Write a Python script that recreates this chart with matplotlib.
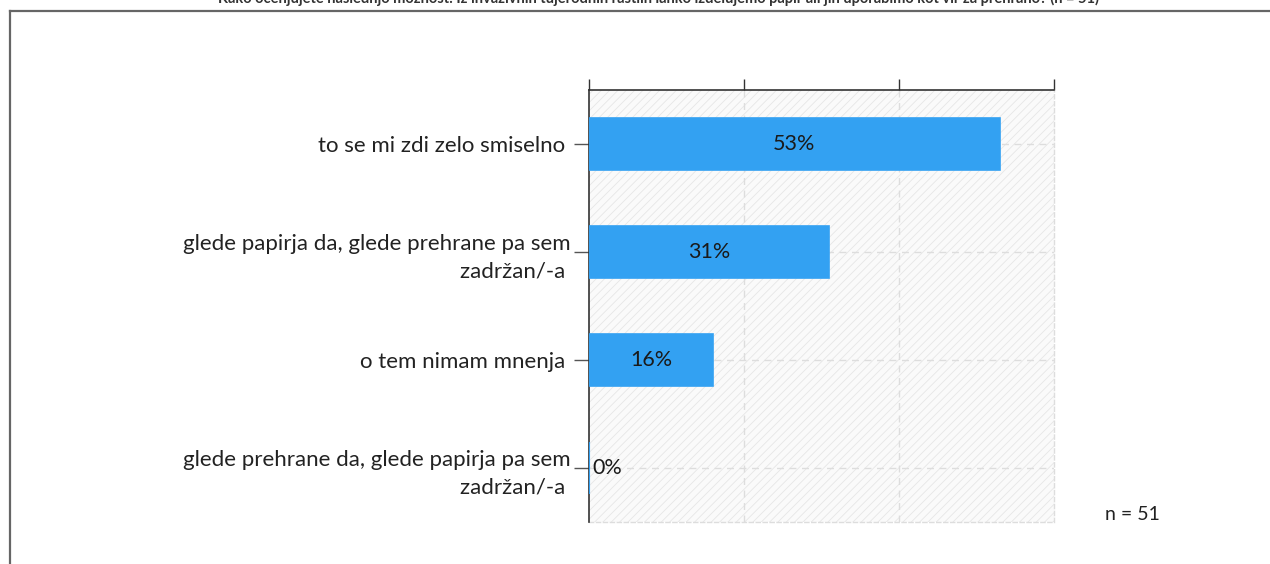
import matplotlib
matplotlib.use("Agg")
import matplotlib.pyplot as plt
from matplotlib.patches import Rectangle
from matplotlib.lines import Line2D

plt.rcParams['font.family'] = ['Lato', 'DejaVu Sans']
plt.rcParams['hatch.linewidth'] = 0.6

title = ("Kako ocenjujete naslednjo možnost: Iz invazivnih tujerodnih rastlin lahko "
         "izdelujemo papir ali jih uporabimo kot vir za prehrano? (n = 51)")
categories = [
    "to se mi zdi zelo smiselno ",
    "glede papirja da, glede prehrane pa sem\nzadržan/-a ",
    "o tem nimam mnenja ",
    "glede prehrane da, glede papirja pa sem\nzadržan/-a ",
]
values = [53, 31, 16, 0]
x_ticks = [0, 20, 40, 60]
n_label = "n = 51"

bar_color = '#33a1f2'
bar_h = 0.48

fig = plt.figure(figsize=(12.7, 5.64), dpi=100)

# outer frame (top + left)
fig.add_artist(Line2D([10 / 1270, 1.0], [1 - 11 / 564, 1 - 11 / 564],
                      transform=fig.transFigure, color='#666666', lw=1.6))
fig.add_artist(Line2D([10 / 1270, 10 / 1270], [0, 1 - 11 / 564],
                      transform=fig.transFigure, color='#666666', lw=1.6))

# title, mostly cut off at the top edge like in the source
fig.text(658 / 1270, 1 - 3 / 564, title, ha='center', va='baseline',
         fontsize=10.5, fontweight='bold', color='#333333')

ax = fig.add_axes([589 / 1270, 1 - 522 / 564, 465 / 1270, 432 / 564])

# hatched background
ax.add_patch(Rectangle((0, 0), 1, 1, transform=ax.transAxes, facecolor='#fafafa',
                       edgecolor='#e6e6e6', hatch='////', lw=0, zorder=0))

ypos = list(range(len(categories)))
ax.barh(ypos, values, height=bar_h, color=bar_color, edgecolor=bar_color,
        linewidth=1.2, zorder=4)

for y, v in zip(ypos, values):
    if v > 0:
        ax.text(v / 2, y, f"{v}%", ha='center', va='center', fontsize=15.5,
                color='#1a1a1a', zorder=5)
    else:
        # zero bar still shows as a thin line
        ax.vlines(v, y - bar_h / 2, y + bar_h / 2, color=bar_color, lw=1.5, zorder=4)
        ax.text(v + 0.4, y, f"{v}%", ha='left', va='center', fontsize=15.5,
                color='#1a1a1a', zorder=5)

ax.set_xlim(x_ticks[0], x_ticks[-1])
ax.set_ylim(len(categories) - 0.5, -0.5)
ax.set_xticks(x_ticks)
ax.set_xticklabels([])
ax.xaxis.tick_top()
ax.tick_params(axis='x', direction='out', length=8, width=1, color='#333333')
ax.set_yticks(ypos)
ax.set_yticklabels(categories, fontsize=16, color='#222222', linespacing=1.5)
ax.tick_params(axis='y', direction='out', length=11, width=1, color='#555555', pad=2)

for x in x_ticks[1:-1]:
    ax.axvline(x, color='#dddddd', lw=1, ls=(0, (5, 4)), zorder=1)
for y in ypos:
    ax.axhline(y, color='#dddddd', lw=1, ls=(0, (5, 4)), zorder=1)

ax.spines['top'].set_color('#333333')
ax.spines['left'].set_color('#333333')
ax.spines['top'].set_linewidth(1.2)
ax.spines['left'].set_linewidth(1.2)
for s in ['right', 'bottom']:
    ax.spines[s].set_color('#dddddd')
    ax.spines[s].set_linestyle((0, (3, 2)))
    ax.spines[s].set_linewidth(1)
ax.spines['left'].set_zorder(3)

fig.text(1105 / 1270, 1 - 515 / 564, n_label, ha='left', va='center', fontsize=14,
         color='#222222')

fig.savefig('out.png', dpi=100)
